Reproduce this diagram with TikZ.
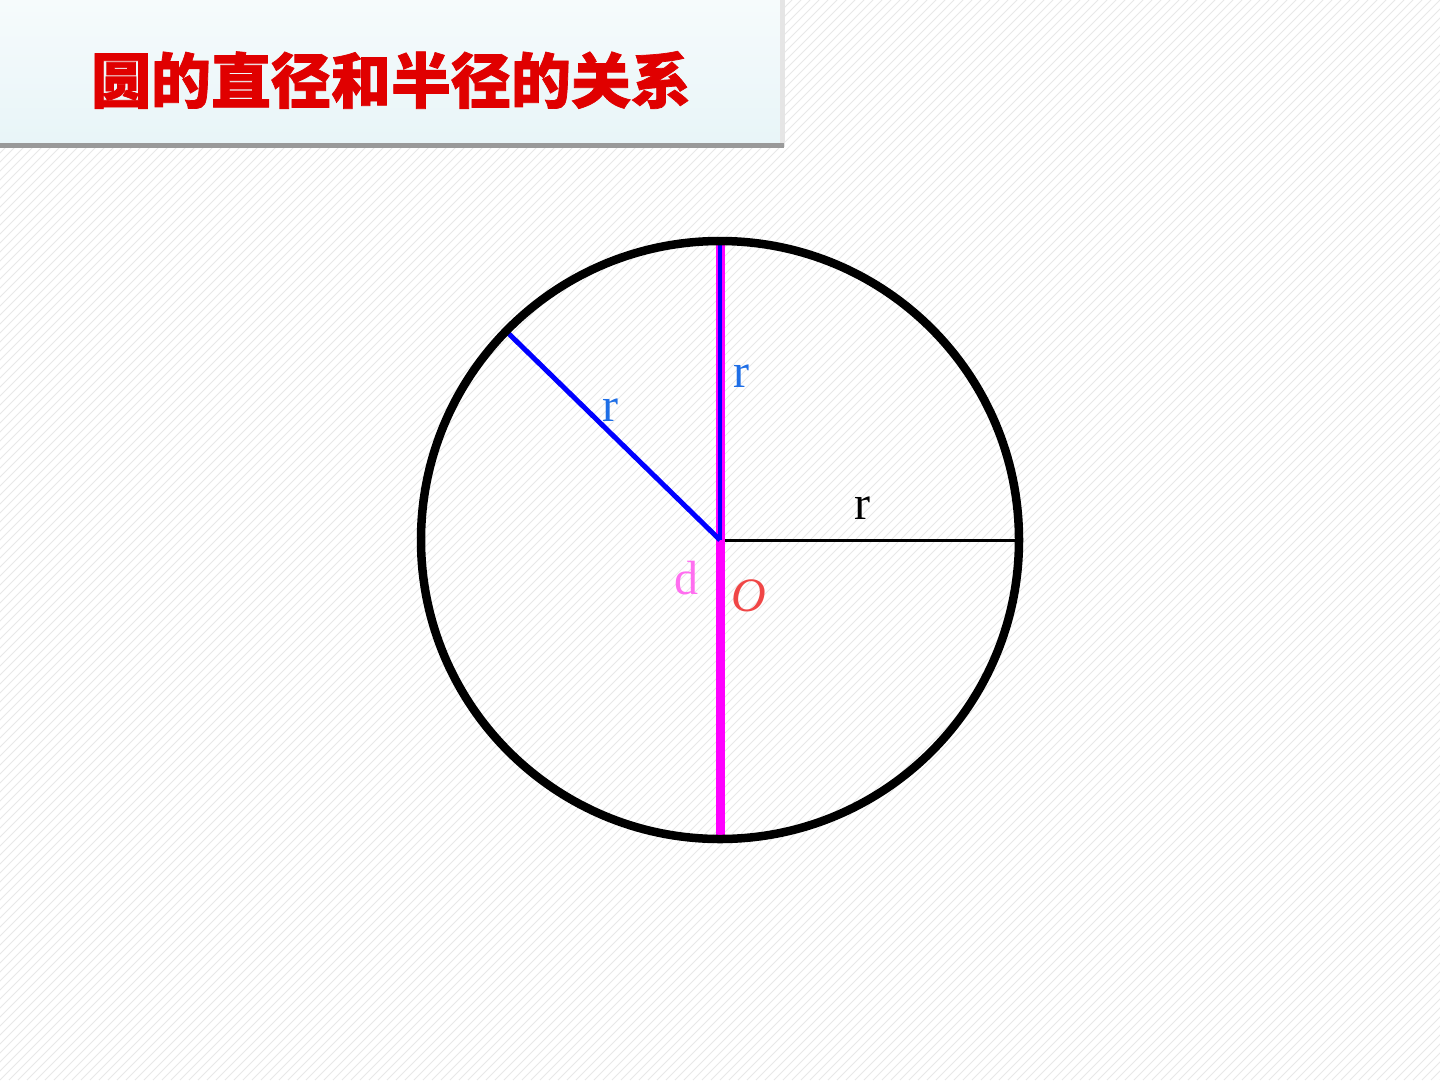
\documentclass[tikz,border=0pt]{standalone}
\usepackage{fontspec}
\setmainfont{Liberation Serif}
\newfontfamily\cjk[BoldFeatures={FakeBold=1.2}]{Noto Sans CJK SC}
\definecolor{mag}{RGB}{255,0,255}
\definecolor{pureblue}{RGB}{0,0,255}
\definecolor{lblue}{RGB}{30,110,230}
\definecolor{pinkd}{RGB}{255,110,240}
\definecolor{redo}{RGB}{240,70,70}
\definecolor{titletop}{RGB}{246,251,252}
\definecolor{titlebot}{RGB}{232,245,248}
\begin{document}
\begin{tikzpicture}[x=1pt,y=-1pt,
  rlabel/.style={font=\fontsize{48}{48}\selectfont},
  bgline/.style={line width=1pt,draw=black!9}]
\useasboundingbox (0,0) rectangle (1440,1080);
\fill[white] (0,0) rectangle (1440,1080);
\begin{scope}
\clip (0,0) rectangle (1440,1080);
\foreach \k in {-1080,-1071,...,1440} {
  \draw[bgline] (\k,1080) -- (\k+1080,0);
}
\end{scope}
% title bar
\shade[top color=titletop, bottom color=titlebot] (0,0) rectangle (783,144);
\fill[black!10] (780,0) rectangle (785,147);
\fill[black!40] (0,143) rectangle (784,148);
\node[text=red!88!black, font=\cjk\bfseries\fontsize{60}{62}\selectfont] (title) at (391,80) {圆的直径和半径的关系};
% geometry
\coordinate (O) at (720,540);
\coordinate (T) at (720,240);
\coordinate (B) at (720,838);
\coordinate (R) at (1018,540);
\coordinate (D) at (506,331);
\draw[line width=3pt] (O) -- (R);
\draw[mag, line width=9pt] (T) -- (B);
\draw[pureblue, line width=4pt] (T) -- (O);
\draw[pureblue, line width=5pt] (D) -- (O);
\draw[line width=8.5pt] (O) circle[radius=299];
% labels
\node[rlabel, text=lblue] (r1) at (610,410) {r};
\node[rlabel, text=lblue] (r2) at (741,376) {r};
\node[rlabel] (r3) at (862,508) {r};
\node[rlabel, text=pinkd] (dl) at (686,578) {d};
\node[rlabel, text=redo, font=\itshape\fontsize{48}{48}\selectfont] (ol) at (749,596) {O};
\end{tikzpicture}
\end{document}
